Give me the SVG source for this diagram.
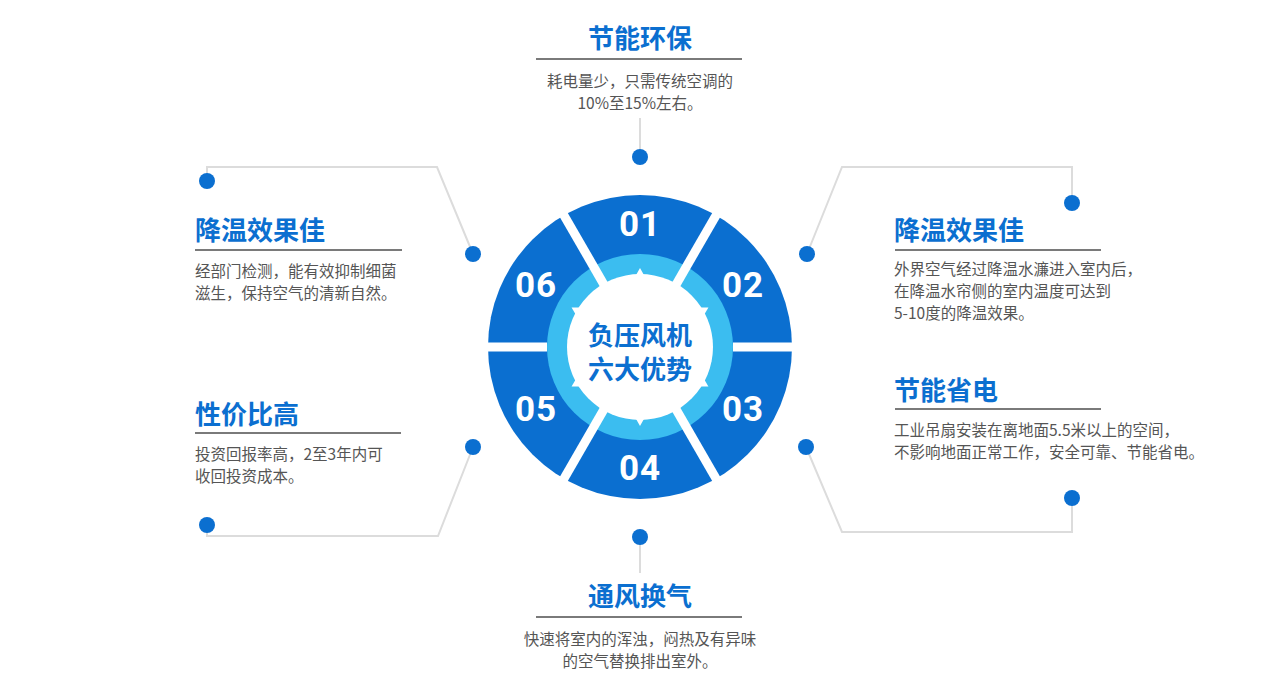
<svg xmlns="http://www.w3.org/2000/svg" xmlns:xlink="http://www.w3.org/1999/xlink" width="1280" height="695" viewBox="0 0 1280 695">
<defs>
<style>
.title{font-family:"Noto Sans CJK SC","Noto Sans",sans-serif;font-size:26px;font-weight:700;fill:#0b6fd0;}
.body{font-family:"Noto Sans CJK SC","Noto Sans",sans-serif;font-size:15.5px;font-weight:400;fill:#555555;}
.num{font-family:Roboto,"DejaVu Sans",sans-serif;font-size:35px;font-weight:700;fill:#ffffff;text-anchor:middle;letter-spacing:1px;}
.ctr{font-family:"Noto Sans CJK SC","Noto Sans",sans-serif;font-size:26px;font-weight:700;fill:#0b6fd0;text-anchor:middle;}
.rule{stroke:#7a7a7a;stroke-width:2;fill:none;}
.conn{stroke:#dcdcdc;stroke-width:2;fill:none;}
.dot{fill:#0b6fd0;}
.gap{stroke:#ffffff;stroke-width:9;fill:none;}
</style>
<polygon id="notch" points="635.5,276 640,268 644.5,276" fill="#ffffff"/>
</defs>
<rect width="1280" height="695" fill="#ffffff"/>

<g id="connectors">
<line class="conn" x1="640" y1="118" x2="640" y2="157"/>
<polyline class="conn" points="207,181 207,167 437,167 473,254"/>
<polyline class="conn" points="807,254 842,167 1072,167 1072,203"/>
<polyline class="conn" points="473,447 438,536 207,536 207,525"/>
<polyline class="conn" points="806,447 842,532 1072,532 1072,498"/>
<line class="conn" x1="640" y1="537" x2="640" y2="573"/>
</g>

<g id="wheel">
<circle cx="640" cy="347" r="152" fill="#0b6fd0"/>
<circle cx="640" cy="347" r="93" fill="#3bbdf0"/>
<circle cx="640" cy="347" r="73" fill="#ffffff"/>
<use xlink:href="#notch"/>
<use xlink:href="#notch" transform="rotate(60 640 347)"/>
<use xlink:href="#notch" transform="rotate(120 640 347)"/>
<use xlink:href="#notch" transform="rotate(180 640 347)"/>
<use xlink:href="#notch" transform="rotate(240 640 347)"/>
<use xlink:href="#notch" transform="rotate(300 640 347)"/>
<line class="gap" x1="675" y1="286.4" x2="720" y2="208.4"/>
<line class="gap" x1="675" y1="407.6" x2="720" y2="485.6"/>
<line class="gap" x1="605" y1="407.6" x2="560" y2="485.6"/>
<line class="gap" x1="605" y1="286.4" x2="560" y2="208.4"/>
<line class="gap" x1="547" y1="347" x2="480" y2="347" stroke-width="10"/>
<line class="gap" x1="733" y1="347" x2="800" y2="347" stroke-width="10"/>
<text class="ctr" x="640" y="345">负压风机</text>
<text class="ctr" x="640" y="379">六大优势</text>
</g>

<g id="seg-01"><text class="num" x="640" y="236">01</text></g>
<g id="seg-02"><text class="num" x="743" y="297">02</text></g>
<g id="seg-03"><text class="num" x="743" y="421">03</text></g>
<g id="seg-04"><text class="num" x="640" y="480">04</text></g>
<g id="seg-05"><text class="num" x="536" y="421">05</text></g>
<g id="seg-06"><text class="num" x="536" y="297">06</text></g>

<g id="item-top">
<text class="title" x="640" y="48" text-anchor="middle">节能环保</text>
<line class="rule" x1="536" y1="59" x2="742" y2="59"/>
<text class="body" x="640" y="87" text-anchor="middle">耗电量少，只需传统空调的</text>
<text class="body" x="640" y="109" text-anchor="middle">10%至15%左右。</text>
<circle class="dot" cx="640" cy="157" r="8"/>
</g>

<g id="item-left-top">
<text class="title" x="195" y="240">降温效果佳</text>
<line class="rule" x1="195" y1="250" x2="402" y2="250"/>
<text class="body" x="195" y="277">经部门检测，能有效抑制细菌</text>
<text class="body" x="195" y="299">滋生，保持空气的清新自然。</text>
<circle class="dot" cx="207" cy="181" r="8"/>
<circle class="dot" cx="473" cy="254" r="8"/>
</g>

<g id="item-right-top">
<text class="title" x="894" y="240">降温效果佳</text>
<line class="rule" x1="895" y1="250" x2="1101" y2="250"/>
<text class="body" x="894" y="275">外界空气经过降温水濂进入室内后，</text>
<text class="body" x="894" y="297">在降温水帘侧的室内温度可达到</text>
<text class="body" x="894" y="319">5-10度的降温效果。</text>
<circle class="dot" cx="807" cy="254" r="8"/>
<circle class="dot" cx="1072" cy="203" r="8"/>
</g>

<g id="item-left-bottom">
<text class="title" x="195" y="424">性价比高</text>
<line class="rule" x1="195" y1="433" x2="401" y2="433"/>
<text class="body" x="195" y="460">投资回报率高，2至3年内可</text>
<text class="body" x="195" y="482">收回投资成本。</text>
<circle class="dot" cx="473" cy="447" r="8"/>
<circle class="dot" cx="207" cy="525" r="8"/>
</g>

<g id="item-right-bottom">
<text class="title" x="894" y="400">节能省电</text>
<line class="rule" x1="895" y1="409" x2="1101" y2="409"/>
<text class="body" x="894" y="436">工业吊扇安装在离地面5.5米以上的空间，</text>
<text class="body" x="894" y="458">不影响地面正常工作，安全可靠、节能省电。</text>
<circle class="dot" cx="806" cy="447" r="8"/>
<circle class="dot" cx="1072" cy="498" r="8"/>
</g>

<g id="item-bottom">
<text class="title" x="640" y="606" text-anchor="middle">通风换气</text>
<line class="rule" x1="536" y1="617" x2="742" y2="617"/>
<text class="body" x="640" y="645" text-anchor="middle">快速将室内的浑浊，闷热及有异味</text>
<text class="body" x="640" y="667" text-anchor="middle">的空气替换排出室外。</text>
<circle class="dot" cx="640" cy="537" r="8"/>
</g>
</svg>
